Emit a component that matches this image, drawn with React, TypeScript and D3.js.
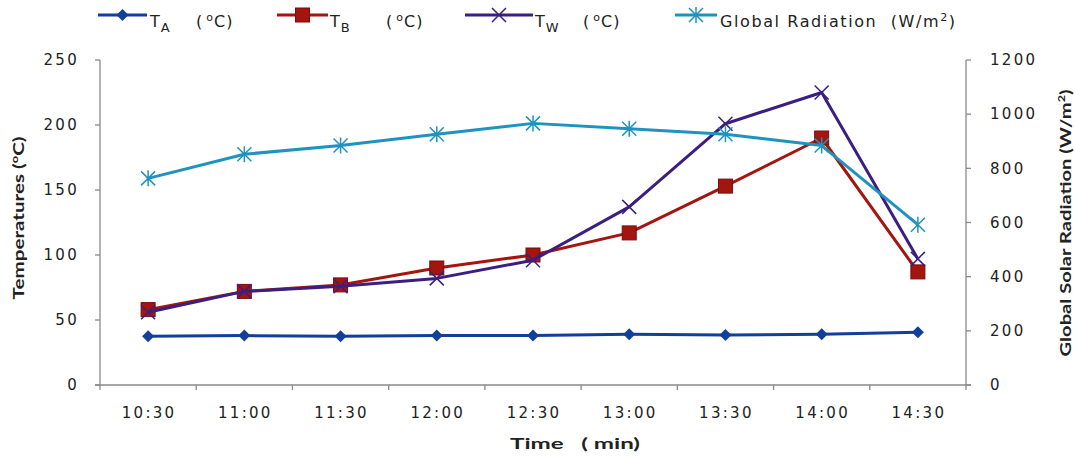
import React from "react";
import * as d3 from "d3";

const categories = ["10:30", "11:00", "11:30", "12:00", "12:30", "13:00", "13:30", "14:00", "14:30"];
const tA = [37.5, 38, 37.5, 38, 38, 39, 38.5, 39, 40.5];
const tB = [58, 72, 77, 90, 100, 117, 153, 190, 87];
const tW = [56, 72, 76, 82, 96, 137, 201, 225, 97];
const radiation = [763, 852, 884, 926, 966, 946, 926, 884, 592];
const leftTicks = [0, 50, 100, 150, 200, 250];
const rightTicks = [0, 200, 400, 600, 800, 1000, 1200];

const W = 1075, H = 457;
const L = 100, R = 966, T = 60, B = 385;
const FONT = "DejaVu Sans, Verdana, sans-serif";
const TITLE_FONT = "Lato, Open Sans, sans-serif";

const cTA = "#123f9a";
const cTB = "#a3150f";
const cTW = "#3b1f80";
const cR = "#1f93bd";

function Marker({ kind, x, y, color }: { kind: string; x: number; y: number; color: string }) {
  if (kind === "diamond") {
    const s = 6;
    return <path d={`M${x},${y - s}L${x + s},${y}L${x},${y + s}L${x - s},${y}Z`} fill={color} />;
  }
  if (kind === "square") {
    const s = 7;
    return <rect x={x - s} y={y - s} width={2 * s} height={2 * s} fill={color} stroke="#7a0c08" strokeWidth={1} />;
  }
  if (kind === "x") {
    const s = 7;
    return (
      <path d={`M${x - s},${y - s}L${x + s},${y + s}M${x - s},${y + s}L${x + s},${y - s}`} stroke={color} strokeWidth={1.5} />
    );
  }
  const s = 7;
  return (
    <path
      d={`M${x - s},${y - s}L${x + s},${y + s}M${x - s},${y + s}L${x + s},${y - s}M${x},${y - s - 1}L${x},${y + s + 1}`}
      stroke={color}
      strokeWidth={1.5}
    />
  );
}

export default function App() {
  const x = d3.scaleBand<string>().domain(categories).range([L, R]);
  const yL = d3.scaleLinear().domain([0, 250]).range([B, T]);
  const yR = d3.scaleLinear().domain([0, 1200]).range([B, T]);
  const cx = (c: string) => (x(c) as number) + x.bandwidth() / 2;

  const series = [
    { data: tA, y: yL, color: cTA, kind: "diamond" },
    { data: tB, y: yL, color: cTB, kind: "square" },
    { data: tW, y: yL, color: cTW, kind: "x" },
    { data: radiation, y: yR, color: cR, kind: "asterisk" },
  ];

  const boundaries = d3.range(categories.length + 1).map((i) => L + i * x.bandwidth());

  const legend = [
    { x1: 98, x2: 147, color: cTA, kind: "diamond", sub: "A", tx: 150, unitX: 196 },
    { x1: 277, x2: 328, color: cTB, kind: "square", sub: "B", tx: 330, unitX: 386 },
    { x1: 465, x2: 533, color: cTW, kind: "x", sub: "W", tx: 535, unitX: 583 },
  ];

  return (
    <svg width={W} height={H} style={{ position: "absolute", left: 0, top: 0, background: "#fff" }} fontFamily={FONT}>
      <rect width={W} height={H} fill="#fff" />
      {/* axes */}
      <g stroke="#8a8a8a" strokeWidth={1.3} fill="none">
        <line x1={L} y1={T} x2={L} y2={B} />
        <line x1={R} y1={T} x2={R} y2={B} />
        <line x1={L - 5} y1={B} x2={R + 5} y2={B} />
        {leftTicks.map((t) => (
          <line key={"l" + t} x1={L - 5} x2={L} y1={yL(t)} y2={yL(t)} />
        ))}
        {rightTicks.map((t) => (
          <line key={"r" + t} x1={R} x2={R + 5} y1={yR(t)} y2={yR(t)} />
        ))}
        {boundaries.map((b, i) => (
          <line key={"b" + i} x1={b} x2={b} y1={B} y2={B + 5} />
        ))}
      </g>
      <g fontSize={15} fill="#222" letterSpacing={2.3}>
        {leftTicks.map((t) => (
          <text key={"lt" + t} x={L - 21} y={yL(t)} dy="0.35em" textAnchor="end">
            {t}
          </text>
        ))}
        {rightTicks.map((t) => (
          <text key={"rt" + t} x={R + 24} y={yR(t)} dy="0.35em" textAnchor="start">
            {t}
          </text>
        ))}
        {categories.map((c) => (
          <text key={"c" + c} x={cx(c) + 1} y={413} dy="0.35em" textAnchor="middle">
            {c}
          </text>
        ))}
      </g>
      <text x={0} y={0} transform={`translate(24,218) rotate(-90)`} textAnchor="middle" fontSize={16} fontWeight="bold" fill="#222" fontFamily={TITLE_FONT} textLength={163} lengthAdjust="spacingAndGlyphs">
        Temperatures (<tspan fontSize={10} dy={-6}>o</tspan><tspan dy={6}>C)</tspan>
      </text>
      <text x={0} y={0} transform={`translate(1071,223) rotate(-90)`} textAnchor="middle" fontSize={16} fontWeight="bold" fill="#222" fontFamily={TITLE_FONT} textLength={267} lengthAdjust="spacingAndGlyphs">
        Global Solar Radiation (W/m<tspan fontSize={10} dy={-6}>2</tspan><tspan dy={6}>)</tspan>
      </text>
      <text x={575} y={449} textAnchor="middle" fontSize={16} fontWeight="bold" fill="#222" fontFamily={TITLE_FONT} textLength={130} lengthAdjust="spacingAndGlyphs">
        Time&#160;&#160; ( min)
      </text>

      {/* series */}
      {series.map((s, i) => {
        const line = d3
          .line<number>()
          .x((_, j) => cx(categories[j]))
          .y((v) => s.y(v));
        return (
          <g key={"s" + i}>
            <path d={line(s.data) as string} fill="none" stroke={s.color} strokeWidth={3} strokeLinejoin="round" />
            {s.data.map((v, j) => (
              <Marker key={j} kind={s.kind} x={cx(categories[j])} y={s.y(v)} color={s.color} />
            ))}
          </g>
        );
      })}

      {/* legend */}
      <g fontSize={16} fill="#222">
        {legend.map((l, i) => (
          <g key={"lg" + i}>
            <line x1={l.x1} x2={l.x2} y1={15} y2={15} stroke={l.color} strokeWidth={3} />
            <Marker kind={l.kind} x={(l.x1 + l.x2) / 2} y={15} color={l.color} />
            <text x={l.tx} y={27}>
              T<tspan fontSize={13} dy={5} dx={1}>{l.sub}</tspan>
            </text>
            <text x={l.unitX} y={27} letterSpacing={1}>
              (<tspan fontSize={11} dy={-6} dx={3}>o</tspan><tspan dy={6}>C)</tspan>
            </text>
          </g>
        ))}
        <line x1={675} x2={717} y1={15} y2={15} stroke={cR} strokeWidth={3} />
        <Marker kind="asterisk" x={696} y={15} color={cR} />
        <text x={720} y={27} letterSpacing={1.6}>
          Global Radiation&#160; (W/m<tspan fontSize={11} dy={-6}>2</tspan><tspan dy={6}>)</tspan>
        </text>
      </g>
    </svg>
  );
}
